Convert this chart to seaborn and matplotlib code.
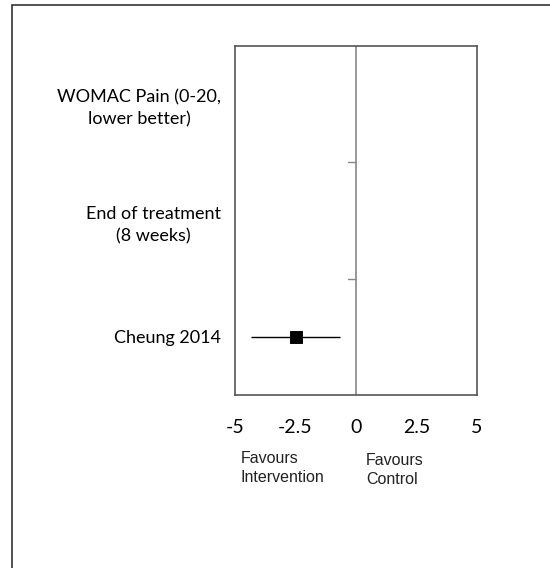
import pandas as pd
import matplotlib.pyplot as plt
import seaborn as sns

# forest plot data
row_labels = ["WOMAC Pain (0-20,\nlower better)", "End of treatment\n(8 weeks)", "Cheung 2014"]
studies = ["Cheung 2014"]
effects = [-2.5]
ci_low = [-4.35]
ci_high = [-0.65]
x_ticks = [-5, -2.5, 0, 2.5, 5]
x_tick_labels = ["-5", "-2.5", "0", "2.5", "5"]

sns.set_theme(style="white")
plt.rcParams['font.family'] = ['Lato', 'DejaVu Sans']

data = pd.DataFrame({"Study": studies, "Effect": effects, "Low": ci_low, "High": ci_high})
data["Row"] = [row_labels.index(s) for s in data["Study"]]

fig = plt.figure(figsize=(5.5, 5.68), dpi=100)
# outer frame
fig.patches.append(plt.Rectangle((12 / 550, -0.1), 1.2, 1 - 5 / 568 + 0.1, transform=fig.transFigure,
                                 fill=False, edgecolor="#333333", linewidth=1.2))
ax = fig.add_axes([235 / 550, 1 - 395 / 568, 242 / 550, 349 / 568])

ax.hlines(data["Row"], data["Low"], data["High"], color="black", linewidth=1)
sns.scatterplot(data=data, x="Effect", y="Row", marker="s", s=70, color="black",
                edgecolor="black", ax=ax, zorder=3)

ax.axvline(0, color="#888888", linewidth=1.2, zorder=1)
for b in [0.5, 1.5]:
    ax.plot([-0.35, 0], [b, b], color="#888888", linewidth=1)

ax.set_xlim(-5, 5)
ax.set_ylim(2.5, -0.5)
ax.set_xticks(x_ticks)
ax.set_xticklabels(x_tick_labels, fontsize=14)
ax.set_yticks(range(len(row_labels)))
ax.set_yticklabels(row_labels, fontsize=13, ha="right", multialignment="center", linespacing=1.45)
ax.tick_params(axis="x", length=0, pad=17, labelcolor="black")
ax.tick_params(axis="y", length=0, pad=10, labelcolor="black")
ax.set_xlabel("")
ax.set_ylabel("")
for sp in ax.spines.values():
    sp.set_color("#555555")
    sp.set_linewidth(1.2)

fig.text(241 / 550, 1 - 451 / 568, "Favours\nIntervention", fontsize=11.5, family="Liberation Sans",
         color="#222222", va="top", ha="left", linespacing=1.3)
fig.text(366 / 550, 1 - 453 / 568, "Favours\nControl", fontsize=11.5, family="Liberation Sans",
         color="#222222", va="top", ha="left", linespacing=1.3)

fig.savefig("out.png", dpi=100)
